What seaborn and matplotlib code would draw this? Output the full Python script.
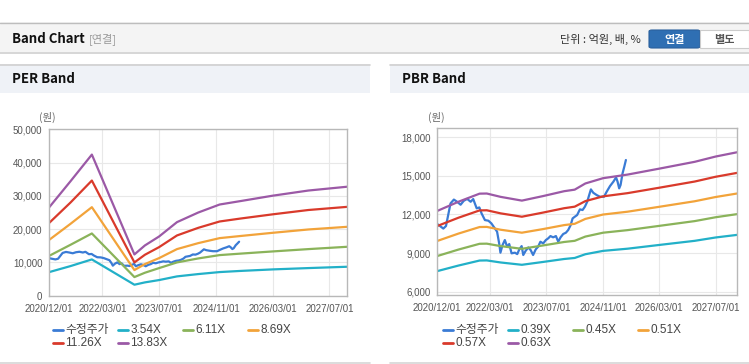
import matplotlib
matplotlib.use("Agg")
import matplotlib.pyplot as plt
from matplotlib.patches import Rectangle, FancyBboxPatch
from matplotlib.lines import Line2D
import seaborn as sns
import pandas as pd

# ---------------- data ----------------
price_dates = [
    "2020-12-01", "2020-12-24", "2021-01-22", "2021-02-14", "2021-03-05", "2021-03-25",
    "2021-04-23", "2021-05-21", "2021-06-20", "2021-07-18", "2021-08-16", "2021-09-15",
    "2021-10-07", "2021-11-06", "2021-11-29", "2021-12-18", "2022-01-16", "2022-02-15",
    "2022-03-13", "2022-04-12", "2022-05-01", "2022-05-19", "2022-05-30", "2022-06-17",
    "2022-07-07", "2022-07-27", "2022-08-14", "2022-09-03", "2022-10-02", "2022-10-22",
    "2022-11-09", "2022-11-29", "2022-12-13", "2023-01-03", "2023-01-26", "2023-02-15",
    "2023-03-08", "2023-03-31", "2023-04-20", "2023-05-10", "2023-06-03", "2023-06-26",
    "2023-07-16", "2023-08-05", "2023-08-28", "2023-09-21", "2023-10-11", "2023-10-31",
    "2023-11-23", "2023-12-16", "2024-01-05", "2024-01-26", "2024-02-12", "2024-03-02",
    "2024-03-22", "2024-04-15", "2024-05-08", "2024-05-28", "2024-06-17", "2024-07-04",
    "2024-07-19", "2024-08-08", "2024-09-07", "2024-10-05", "2024-11-09", "2024-12-02",
    "2024-12-31", "2025-01-29", "2025-02-21", "2025-03-06", "2025-03-20", "2025-04-01",
    "2025-04-18", "2025-05-03", "2025-05-17",
]
price_values = [
    11250, 11100, 10900, 11100, 11950, 12850, 13150, 12980, 12750, 13060, 13200, 12980,
    13190, 12470, 12540, 12080, 11560, 11510, 11300, 10910, 10660, 9750, 9030, 9620,
    10010, 9490, 9700, 8980, 9030, 8920, 9290, 9540, 8850, 9180, 9440, 9230,
    8850, 9290, 9490, 9880, 9750, 10010, 10140, 10320, 10220, 10320, 9880, 10220,
    10480, 10580, 10790, 11170, 11690, 11820, 11950, 12390, 12340, 12600, 12980, 13500,
    13940, 13680, 13500, 13370, 13370, 13760, 14200, 14540, 14870, 14540, 14020, 14280,
    15180, 15700, 16220,
]

per_dates = ["2020-12-01", "2021-06-01", "2021-12-01", "2022-12-01", "2023-03-01",
             "2023-07-01", "2023-12-01", "2024-06-01", "2024-12-01", "2025-06-01",
             "2026-03-01", "2027-01-01", "2027-12-01"]
per_354 = [7100, 8900, 10900, 3300, 4000, 4700, 5800, 6500, 7100, 7450, 7900, 8300, 8700]
per_611 = [12000, 15300, 18700, 5600, 6900, 8300, 10000, 11200, 12200, 12650, 13300, 14000, 14700]
per_869 = [16800, 21600, 26600, 7700, 9500, 11300, 14000, 15800, 17300, 17950, 18900, 19900, 20700]
per_1126 = [21900, 28000, 34600, 10000, 12300, 14600, 18100, 20400, 22300, 23200, 24450, 25750, 26700]
per_1383 = [26600, 34400, 42400, 12400, 15100, 17800, 22100, 25000, 27400, 28450, 30050, 31600, 32750]
per_labels = ["3.54X", "6.11X", "8.69X", "11.26X", "13.83X"]

pbr_dates = ["2020-12-01", "2021-06-01", "2021-12-01", "2022-02-01", "2022-06-01",
             "2022-12-01", "2023-06-01", "2023-12-01", "2024-03-01", "2024-06-01",
             "2024-11-01", "2025-06-01", "2026-03-01", "2027-01-01", "2027-07-01",
             "2028-01-01"]
pbr_039 = [7600, 8030, 8420, 8430, 8270, 8090, 8310, 8540, 8620, 8910, 9170, 9340, 9630, 9950, 10210, 10410]
pbr_045 = [8770, 9270, 9720, 9730, 9540, 9330, 9590, 9860, 9950, 10280, 10580, 10780, 11110, 11480, 11780, 12020]
pbr_051 = [9940, 10510, 11020, 11030, 10810, 10580, 10860, 11170, 11270, 11650, 11990, 12210, 12590, 13020, 13350, 13620]
pbr_057 = [11100, 11740, 12310, 12320, 12080, 11820, 12140, 12480, 12600, 13030, 13400, 13650, 14070, 14550, 14920, 15220]
pbr_063 = [12270, 12980, 13610, 13620, 13360, 13070, 13420, 13800, 13920, 14400, 14810, 15090, 15550, 16080, 16490, 16820]
pbr_labels = ["0.39X", "0.45X", "0.51X", "0.57X", "0.63X"]

price_label = "수정주가"
x_tick_labels = ["2020/12/01", "2022/03/01", "2023/07/01", "2024/11/01", "2026/03/01", "2027/07/01"]
per_yticks = [0, 10000, 20000, 30000, 40000, 50000]
pbr_yticks = [6000, 9000, 12000, 15000, 18000]

colors = ["#3a7bd5", "#22b0c8", "#8ab35a", "#f2a33a", "#d93a2b", "#9b59a6"]

# ---------------- build long tables ----------------
def long_table(dates, series, labels):
    frames = []
    for vals, lab in zip(series, labels):
        frames.append(pd.DataFrame({"date": pd.to_datetime(dates), "value": vals, "series": lab}))
    return frames

price_df = pd.DataFrame({"date": pd.to_datetime(price_dates), "value": price_values, "series": price_label})
per_df = pd.concat([price_df] + long_table(per_dates, [per_354, per_611, per_869, per_1126, per_1383], per_labels),
                   ignore_index=True)
pbr_df = pd.concat([price_df] + long_table(pbr_dates, [pbr_039, pbr_045, pbr_051, pbr_057, pbr_063], pbr_labels),
                   ignore_index=True)

# ---------------- style ----------------
sns.set_theme(style="white")
plt.rcParams["font.family"] = ["Liberation Sans", "Noto Sans CJK KR", "DejaVu Sans"]
KFONT = ["Noto Sans CJK KR", "Liberation Sans", "DejaVu Sans"]
LFONT = ["Liberation Sans", "Noto Sans CJK KR", "DejaVu Sans"]

W, H = 749, 364
fig = plt.figure(figsize=(W / 100, H / 100), dpi=100)
fig.patch.set_facecolor("white")


def fx(x):
    return x / W


def fy(y):
    return 1 - y / H


def prect(x0, y0, x1, y1, **kw):
    fig.add_artist(Rectangle((fx(x0), fy(y1)), fx(x1) - fx(x0), fy(y0) - fy(y1),
                             transform=fig.transFigure, **kw))


def hline(x0, x1, y, color, lw=1.0):
    fig.add_artist(Line2D([fx(x0), fx(x1)], [fy(y), fy(y)], transform=fig.transFigure,
                          color=color, lw=lw))


# top header bar
prect(0, 22, 749, 52, facecolor="#f4f4f4", edgecolor="none")
hline(0, 749, 22.5, "#bdbdbd", 1.0)
hline(0, 749, 52.5, "#cfcfcf", 1.2)
fig.text(fx(12), fy(39), "Band Chart", fontsize=9.5, fontweight="bold", color="#111111",
         va="center", ha="left", family=KFONT)
fig.text(fx(89), fy(39), "[연결]", fontsize=8, color="#999999", va="center", ha="left", family=KFONT)
fig.text(fx(641), fy(39), "단위 : 억원, 배, %", fontsize=8, color="#333333", va="center", ha="right",
         family=KFONT)
fig.add_artist(FancyBboxPatch((fx(649), fy(48)), fx(700) - fx(649), fy(30) - fy(48),
                              boxstyle="round,pad=0,rounding_size=0.004", transform=fig.transFigure,
                              facecolor="#2f6fb3", edgecolor="#2a5f9c", lw=0.8))
prect(700, 30, 749, 48, facecolor="white", edgecolor="#cccccc", lw=0.8)
fig.text(fx(674.5), fy(39), "연결", fontsize=8, color="white", fontweight="bold", va="center",
         ha="center", family=KFONT)
fig.text(fx(724), fy(39), "별도", fontsize=8, color="#555555", fontweight="bold", va="center",
         ha="center", family=KFONT)

# panel headers
for x0, x1, title in [(0, 370, "PER Band"), (390, 749, "PBR Band")]:
    prect(x0, 64, x1, 93, facecolor="#eff2f7", edgecolor="none")
    hline(x0, x1, 64.5, "#d0d0d0", 1.2)
    hline(x0, x1, 362.5, "#d6d6d6", 1.2)
    fig.text(fx(x0 + 12), fy(79), title, fontsize=9.5, fontweight="bold", color="#111111",
             va="center", ha="left", family=KFONT)

# axes
ax1 = fig.add_axes([fx(49.3), fy(295.7), fx(347.3) - fx(49.3), fy(129.3) - fy(295.7)])
ax2 = fig.add_axes([fx(437.3), fy(294.7), fx(737) - fx(437.3), fy(128.3) - fy(294.7)])

order1 = [price_label] + per_labels
order2 = [price_label] + pbr_labels

sns.lineplot(data=per_df, x="date", y="value", hue="series", hue_order=order1, palette=colors,
             linewidth=1.6, ax=ax1, legend=False, estimator=None, sort=False)
sns.lineplot(data=pbr_df, x="date", y="value", hue="series", hue_order=order2, palette=colors,
             linewidth=1.6, ax=ax2, legend=False, estimator=None, sort=False)

xticks = pd.to_datetime([s.replace("/", "-") for s in x_tick_labels])

for ax, yt, ylim, xmax in [
    (ax1, per_yticks, (0, 50000), per_dates[-1]),
    (ax2, pbr_yticks, (5770, 18680), pbr_dates[-1]),
]:
    ax.set_xlim(pd.Timestamp("2020-12-01"), pd.Timestamp(xmax))
    ax.set_ylim(*ylim)
    ax.set_xticks(xticks)
    ax.set_xticklabels(x_tick_labels)
    ax.set_yticks(yt)
    ax.set_yticklabels([f"{v:,}" for v in yt])
    ax.set_xlabel("")
    ax.set_ylabel("")
    ax.grid(True, color="#e8e8e8", lw=0.8)
    ax.set_axisbelow(True)
    for sp in ax.spines.values():
        sp.set_color("#b8b8b8")
        sp.set_linewidth(1.0)
    ax.tick_params(axis="both", labelsize=7, labelcolor="#555555", color="#b8b8b8",
                   length=3, width=0.8, direction="out", pad=2)
    ax.tick_params(axis="x", pad=3)

# legends (row-wise grid like the reference)
for x_start, order in [(52.7, order1), (443.0, order2)]:
    for i, (lab, col) in enumerate(zip(order, colors)):
        row, colidx = divmod(i, 4)
        x = x_start + 65 * colidx
        y = 330 + 13 * row
        fig.add_artist(Line2D([fx(x), fx(x + 10)], [fy(y), fy(y)], transform=fig.transFigure,
                              color=col, lw=2.0))
        fig.text(fx(x + 12.5), fy(y), lab, fontsize=8.5, color="#444444", va="center", ha="left",
                 family=LFONT)

fig.text(fx(47), fy(117), "(원)", fontsize=7.5, color="#666666", ha="center", va="center", family=KFONT)
fig.text(fx(436), fy(117), "(원)", fontsize=7.5, color="#666666", ha="center", va="center", family=KFONT)

fig.savefig("out.png", dpi=100, facecolor="white")
